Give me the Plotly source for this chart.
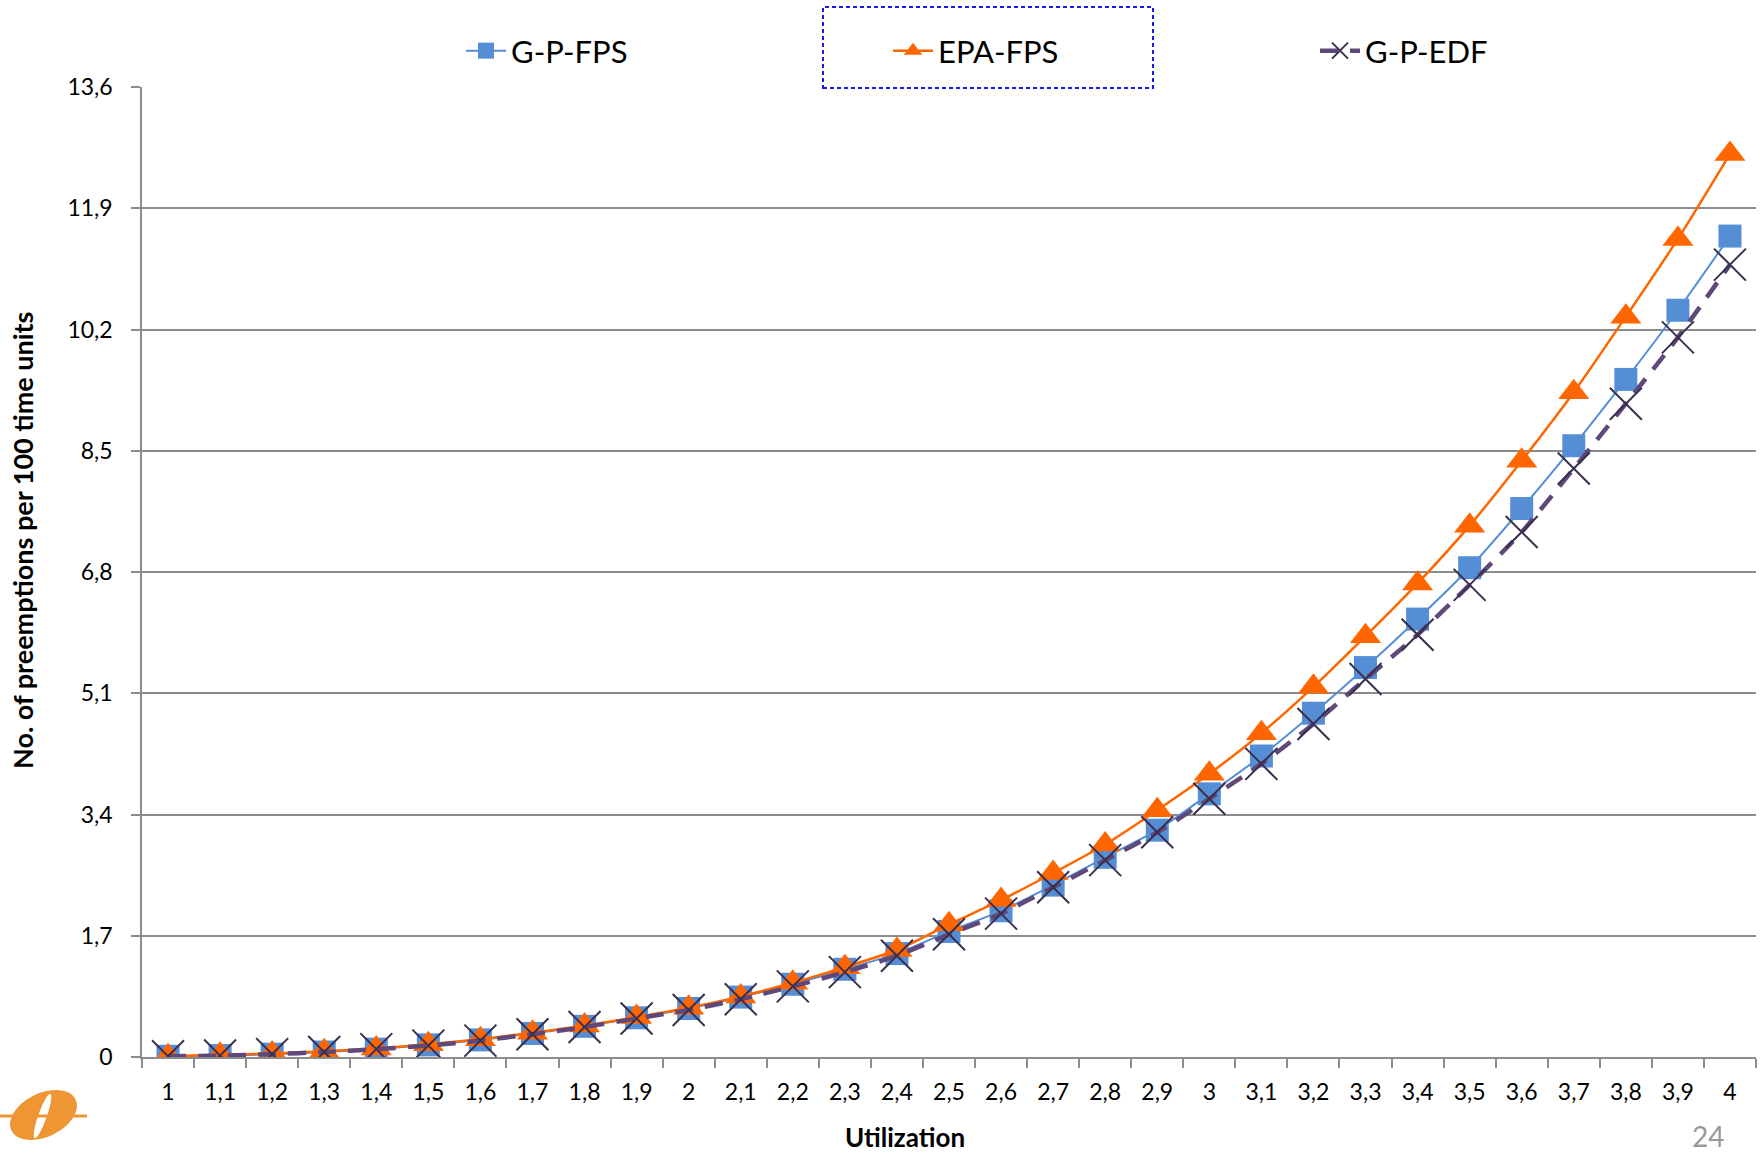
import math
import plotly.graph_objects as go

# ---------------- data ----------------
utilization = ["1", "1,1", "1,2", "1,3", "1,4", "1,5", "1,6", "1,7", "1,8", "1,9", "2",
               "2,1", "2,2", "2,3", "2,4", "2,5", "2,6", "2,7", "2,8", "2,9", "3",
               "3,1", "3,2", "3,3", "3,4", "3,5", "3,6", "3,7", "3,8", "3,9", "4"]

g_p_fps = [0.01, 0.02, 0.04, 0.07, 0.11, 0.17, 0.24, 0.33, 0.43, 0.55, 0.68,
           0.84, 1.02, 1.23, 1.45, 1.76, 2.05, 2.41, 2.80, 3.18, 3.69,
           4.22, 4.82, 5.46, 6.14, 6.86, 7.69, 8.57, 9.50, 10.47, 11.51]

epa_fps = [0.01, 0.03, 0.05, 0.08, 0.12, 0.18, 0.25, 0.34, 0.44, 0.56, 0.69,
           0.85, 1.04, 1.26, 1.50, 1.86, 2.20, 2.58, 2.98, 3.46, 3.97,
           4.54, 5.19, 5.90, 6.64, 7.45, 8.36, 9.32, 10.38, 11.47, 12.66]

g_p_edf = [0.01, 0.02, 0.04, 0.07, 0.11, 0.16, 0.23, 0.32, 0.42, 0.54, 0.66,
           0.81, 0.99, 1.19, 1.42, 1.72, 2.01, 2.38, 2.76, 3.15, 3.62,
           4.11, 4.67, 5.30, 5.92, 6.62, 7.36, 8.25, 9.16, 10.09, 11.11]

y_tick_vals = [0, 1.7, 3.4, 5.1, 6.8, 8.5, 10.2, 11.9, 13.6]
y_tick_text = ["0", "1,7", "3,4", "5,1", "6,8", "8,5", "10,2", "11,9", "13,6"]

# ---------------- layout geometry ----------------
W, H = 1763, 1156
ML, MR, MT, MB = 142, 7, 87, 99
PW = W - ML - MR
PH = H - MT - MB
FONT = "Lato"
GRID = "#8c8c8c"


def px2paper(x, y):
    return (x - ML) / PW, (H - MB - y) / PH


fig = go.Figure()

fig.add_trace(go.Scatter(
    x=utilization, y=g_p_fps, name="G-P-FPS", mode="lines+markers",
    line=dict(color="#558ED5", width=2, shape="spline", smoothing=0.6),
    marker=dict(symbol="square", size=23, color="#558ED5"),
))
fig.add_trace(go.Scatter(
    x=utilization, y=epa_fps, name="EPA-FPS", mode="lines+markers",
    line=dict(color="#FF6600", width=2.5, shape="spline", smoothing=0.6),
    marker=dict(symbol="triangle-up", size=27, color="#FF6600"),
))
fig.add_trace(go.Scatter(
    x=utilization, y=g_p_edf, name="G-P-EDF", mode="lines+markers",
    line=dict(color="#5F497A", width=4.5, dash="18px,12px", shape="spline", smoothing=0.6),
    marker=dict(symbol="x-thin", size=32, color="#3B2F4F",
                line=dict(color="#3B2F4F", width=2)),
))

# ---------------- logo (decoration) ----------------
def sheared_ellipse(cx, cy, rx, ry, s, n=90):
    pts = []
    for i in range(n):
        t = 2 * math.pi * i / n
        x = cx + rx * math.cos(t) + s * ry * math.sin(t)
        y = cy - ry * math.sin(t)
        px, py = px2paper(x, y)
        pts.append(f"{px:.5f},{py:.5f}")
    return "M" + " L".join(pts) + " Z"


shapes = [
    dict(type="path", xref="paper", yref="paper",
         path=sheared_ellipse(43.5, 1115, 31, 25, 0.5),
         fillcolor="#EE9633", line=dict(width=0)),
    dict(type="path", xref="paper", yref="paper",
         path=sheared_ellipse(42.5, 1116, 4.5, 22, 0.34),
         fillcolor="white", line=dict(width=0)),
]
bx0, by = px2paper(0, 1116)
bx1, _ = px2paper(87, 1116)
shapes.append(dict(type="line", xref="paper", yref="paper", x0=bx0, x1=bx1, y0=by, y1=by,
                   line=dict(color="#EE9633", width=3)))

# dashed box around the middle legend entry
lx0, ly0 = px2paper(823, 7)
lx1, ly1 = px2paper(1153, 88)
shapes.append(dict(type="rect", xref="paper", yref="paper", x0=lx0, x1=lx1, y0=ly1, y1=ly0,
                   line=dict(color="#1A1AEE", width=2, dash="4px,3px")))

ytx, yty = px2paper(22, 541)
xtx, xty = px2paper(905, 1137)
nx, ny = px2paper(1708, 1136)

annotations = [
    dict(text="<b>No. of preemptions per 100 time units</b>", xref="paper", yref="paper",
         x=ytx, y=yty, textangle=-90, showarrow=False, xanchor="center", yanchor="middle",
         font=dict(family=FONT, size=27, color="#000")),
    dict(text="<b>Utilization</b>", xref="paper", yref="paper",
         x=xtx, y=xty, showarrow=False, xanchor="center", yanchor="middle",
         font=dict(family=FONT, size=26, color="#000")),
    dict(text="24", xref="paper", yref="paper",
         x=nx, y=ny, showarrow=False, xanchor="center", yanchor="middle",
         font=dict(family=FONT, size=28, color="#999999")),
]

legx, legy = px2paper(461, 51)

fig.update_layout(
    width=W, height=H,
    margin=dict(l=ML, r=MR, t=MT, b=MB, pad=0, autoexpand=False),
    paper_bgcolor="white", plot_bgcolor="white",
    font=dict(family=FONT, size=23, color="#000"),
    showlegend=True,
    legend=dict(orientation="h", x=legx, y=legy, xanchor="left", yanchor="middle",
                font=dict(family=FONT, size=31, color="#000"),
                entrywidth=372, entrywidthmode="pixels", itemwidth=40,
                bgcolor="rgba(0,0,0,0)", traceorder="normal"),
    xaxis=dict(type="category", categoryorder="array", categoryarray=utilization,
               range=[-0.5, len(utilization) - 0.5], autorange=False,
               showgrid=False, zeroline=False,
               showline=True, linecolor=GRID, linewidth=1.5,
               ticks="outside", tickson="boundaries", ticklen=9, tickcolor=GRID, tickwidth=1.5,
               tickfont=dict(family=FONT, size=23, color="#000"),
               ticklabelstandoff=14),
    yaxis=dict(range=[0, 13.6], autorange=False, tickvals=y_tick_vals, ticktext=y_tick_text,
               showgrid=True, gridcolor=GRID, gridwidth=1.5, zeroline=False,
               showline=True, linecolor=GRID, linewidth=1.5,
               ticks="outside", ticklen=9, tickcolor=GRID, tickwidth=1.5,
               tickfont=dict(family=FONT, size=23, color="#000"),
               ticklabelstandoff=14),
    shapes=shapes,
    annotations=annotations,
)

fig.write_html("out.html")
